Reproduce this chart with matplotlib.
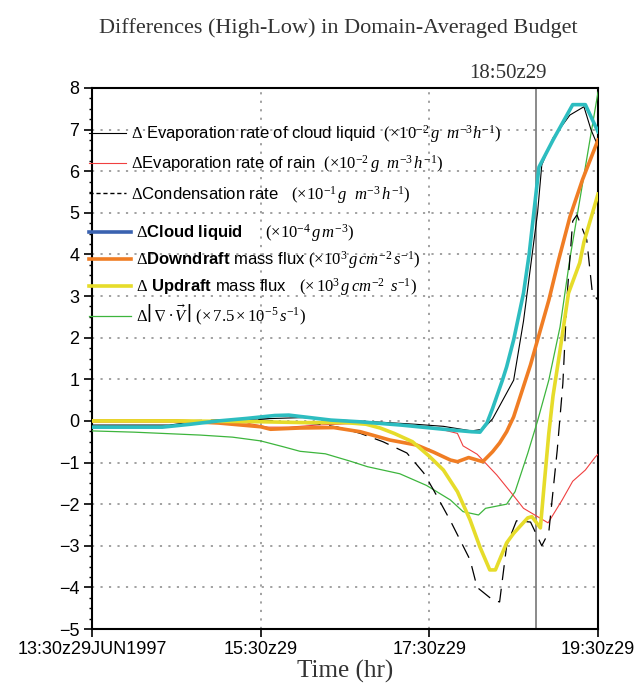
import matplotlib
matplotlib.use("Agg")
import matplotlib.pyplot as plt
from matplotlib.lines import Line2D
from matplotlib.ticker import MultipleLocator

plt.rcParams['font.family'] = ['Liberation Sans', 'DejaVu Sans']
plt.rcParams['mathtext.fontset'] = 'custom'
plt.rcParams['mathtext.rm'] = 'Liberation Serif'
plt.rcParams['mathtext.it'] = 'Liberation Serif:italic'
plt.rcParams['mathtext.bf'] = 'Liberation Sans:bold'
plt.rcParams['mathtext.fallback'] = 'stix'

# ---- data (minutes after 13:30z29JUN1997) ----
evap_cloud_t = [0, 55, 77, 120, 150, 170, 200, 230, 250, 270, 278, 285, 300, 307, 312, 317, 320, 328, 340, 350, 355, 360]
evap_cloud_v = [-0.1, -0.1, 0.0, 0.05, 0.08, 0.03, -0.02, -0.08, -0.13, -0.24, -0.2, 0.05, 0.98, 2.4, 3.7, 5.0, 6.15, 6.8, 7.35, 7.55, 7.0, 6.6]

evap_rain_t = [0, 60, 110, 125, 140, 160, 180, 205, 241, 260, 264, 274, 281, 288, 300, 307, 317, 324.5, 334.5, 342, 351, 358, 360]
evap_rain_v = [0.0, 0.0, -0.05, -0.15, -0.15, -0.1, -0.07, -0.05, -0.14, -0.3, -0.6, -0.8, -1.05, -1.3, -1.8, -2.1, -2.3, -2.45, -1.9, -1.45, -1.18, -0.87, -0.8]

cond_t = [0, 60, 90, 120, 143, 160, 175, 191, 207, 224, 236, 243, 255, 269, 274, 285, 290, 295, 302, 312, 320, 325, 331, 335, 338, 342, 345, 352, 356, 360]
cond_v = [0.0, 0.0, 0.02, 0.03, -0.05, -0.07, -0.15, -0.3, -0.5, -0.77, -1.25, -1.66, -2.4, -3.34, -4.0, -4.3, -4.35, -3.0, -2.4, -2.43, -3.0, -2.67, -0.7, 0.9, 3.0, 4.8, 4.95, 4.35, 3.07, 2.9]

cloud_t = [0, 50, 70, 90, 110, 130, 140, 150, 170, 190, 220, 250, 270, 276, 281, 285, 292, 295, 300, 307, 311, 318, 328, 342, 351, 360]
cloud_v = [-0.15, -0.15, -0.08, 0.0, 0.06, 0.13, 0.14, 0.1, 0.02, -0.02, -0.1, -0.2, -0.26, -0.27, -0.05, 0.3, 0.98, 1.3, 1.95, 3.07, 4.0, 6.1, 6.75, 7.6, 7.6, 6.95]

down_t = [0, 60, 90, 120, 127, 148, 172, 191, 212, 231, 243, 255, 260, 268, 278, 285, 290, 295, 300, 312, 325, 332, 340, 349, 360]
down_v = [0.0, 0.0, -0.05, -0.14, -0.2, -0.17, -0.16, -0.26, -0.46, -0.58, -0.75, -0.94, -0.98, -0.88, -0.98, -0.74, -0.53, -0.26, 0.1, 1.35, 2.9, 3.87, 4.9, 5.8, 6.75]

up_t = [0, 30, 60, 90, 120, 150, 180, 195, 205, 215, 228, 240, 250, 260, 269, 276, 283, 287, 295, 300, 310, 313, 319, 322, 325, 328, 333, 339, 347, 350, 360]
up_v = [0.0, 0.0, 0.0, -0.01, -0.02, -0.04, -0.04, -0.08, -0.17, -0.3, -0.5, -0.85, -1.18, -1.7, -2.38, -3.03, -3.58, -3.58, -2.93, -2.7, -2.33, -2.3, -2.57, -1.42, -0.3, 0.6, 1.7, 3.07, 3.8, 4.3, 5.45]

div_t = [0, 30, 77, 100, 120, 136, 148, 166, 184, 196, 219, 238, 255, 264, 275, 280, 295, 301, 310, 317, 325, 333, 340, 360]
div_v = [-0.24, -0.27, -0.34, -0.39, -0.48, -0.62, -0.73, -0.79, -0.97, -1.1, -1.27, -1.55, -1.9, -2.18, -2.26, -2.1, -2.0, -1.7, -0.78, 0.0, 0.98, 2.26, 3.9, 7.9]

xtick_pos = [0, 120, 240, 360]
xtick_labels = ["13:30z29JUN1997", "15:30z29", "17:30z29", "19:30z29"]
marker_time = 316
marker_label = "18:50z29"

labels = [
    r"$\Delta$ Evaporation rate of cloud liquid  $(\times10^{-2}\,g\ \ m^{-3}h^{-1})$",
    r"$\Delta$Evaporation rate of rain  $(\times10^{-2}\,g\ \ m^{-3}\,h^{-1})$",
    r"$\Delta$Condensation rate   $(\times10^{-1}\,g\ \ m^{-3}\,h^{-1})$",
    r"$\Delta\mathbf{Cloud\ liquid}$     $(\times10^{-4}\,g\,m^{-3})$",
    r"$\Delta\mathbf{Downdraft}$ mass flux $(\times10^{3}\,g\,cm^{-2}\,s^{-1})$",
    r"$\Delta$ $\mathbf{Updraft}$ mass flux   $(\times\,10^{3}\,g\,cm^{-2}\ \,s^{-1})$",
    r"$\Delta\left|\,\nabla\bullet\vec{V}\,\right|\ (\times\,7.5\times10^{-5}\,s^{-1})$",
]

c_cyan = '#2DBDC0'
c_orange = '#F07D24'
c_yellow = '#E6DC2A'
c_green = '#3DB53D'
c_red = '#F04040'
c_blue = '#3A62B0'

fig = plt.figure(figsize=(6.39, 6.88), dpi=100)
ax = fig.add_axes([92/639, 59/688, 506/639, 541/688])

ax.plot(div_t, div_v, color=c_green, lw=0.9, zorder=3)
ax.plot(evap_rain_t, evap_rain_v, color=c_red, lw=0.8, zorder=3)
ax.plot(cond_t, cond_v, color='black', lw=0.9, ls=(0, (12, 7)), zorder=4)
ax.plot(evap_cloud_t, evap_cloud_v, color='black', lw=0.8, zorder=4)
ax.plot(down_t, down_v, color=c_orange, lw=2.6, zorder=5)
ax.plot(up_t, up_v, color=c_yellow, lw=2.6, zorder=6)
ax.plot(cloud_t, cloud_v, color=c_cyan, lw=2.6, zorder=7)

ax.axvline(marker_time, color='#777777', lw=1.2, zorder=2)
ax.text((marker_time - 20), 8.12, marker_label, family='Liberation Serif',
        fontsize=15, ha='center', va='bottom', color='#333333')

ax.set_xlim(0, 360)
ax.set_ylim(-5, 8)
ax.set_xticks(xtick_pos)
ax.set_xticklabels(xtick_labels)
ax.set_yticks(range(-5, 9))
ax.set_yticklabels([("\u2212%d" % -v) if v < 0 else str(v) for v in range(-5, 9)])
ax.yaxis.set_minor_locator(MultipleLocator(0.25))
ax.tick_params(axis='both', which='major', labelsize=13, length=6, width=1.2, direction='out', pad=3)
ax.tick_params(axis='y', which='minor', length=2.5, width=1.0, direction='out')
for s in ax.spines.values():
    s.set_linewidth(1.5)

ax.grid(True, which='major', color='#9a9a9a', ls=(0, (1.2, 3.5)), lw=1.3)
ax.set_axisbelow(True)

ax.set_xlabel("Time (hr)", family='Liberation Serif', fontsize=18, labelpad=1, color='#333333')
fig.text(338/639, 1 - 28/688, "Differences (High-Low) in Domain-Averaged Budget",
         family='Liberation Serif', fontsize=16, ha='center', va='center', color='#333333')

h1 = [Line2D([], [], color='black', lw=0.8),
      Line2D([], [], color=c_red, lw=0.8),
      Line2D([], [], color='black', lw=1.0, ls=(0, (3, 2)))]
h2 = [Line2D([], [], color=c_blue, lw=2.6),
      Line2D([], [], color=c_orange, lw=2.6),
      Line2D([], [], color=c_yellow, lw=2.6),
      Line2D([], [], color=c_green, lw=0.9)]
leg1 = ax.legend(h1, labels[:3], loc='upper left', bbox_to_anchor=(-0.005, 0.935),
                 frameon=False, fontsize=12, handlelength=2.2, handletextpad=0.3,
                 labelspacing=0.5, borderaxespad=0, borderpad=0)
ax.add_artist(leg1)
ax.legend(h2, labels[3:], loc='upper left', bbox_to_anchor=(-0.005, 0.752),
          frameon=False, fontsize=12, handlelength=2.5, handletextpad=0.3,
          labelspacing=0.3, borderaxespad=0, borderpad=0)

fig.savefig("out.png", dpi=100)
